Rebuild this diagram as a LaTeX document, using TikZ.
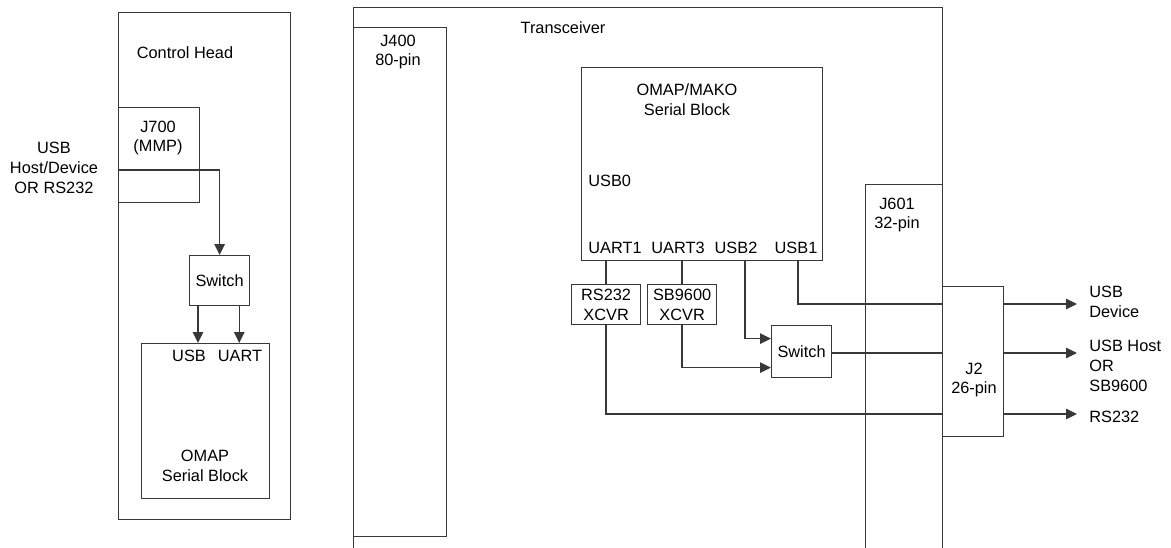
\documentclass[tikz,border=0pt]{standalone}
\usepackage{fontspec}
\setmainfont{Liberation Sans}
\usetikzlibrary{arrows.meta,calc,positioning}
\definecolor{linegray}{rgb}{0.22,0.22,0.22}
\tikzset{
  box/.style={
    draw=linegray,
    line width=.7pt,
    anchor=north west,
    inner sep=0pt,
    align=center
  },
  txt/.style={
    align=center,
    inner sep=0pt
  },
  wire/.style={
    draw=linegray,
    line width=.7pt
  },
  arrow/.style={
    wire,
    -{Triangle[length=2.2mm,width=2.1mm]}
  }
}
\begin{document}
\begin{tikzpicture}[x=0.02cm,y=-0.02cm,font=\fontsize{9.3}{11.3}\selectfont]
\useasboundingbox (0,0) rectangle (1171,548);
\clip (0,0) rectangle (1171,548);
% control head
\node[box,minimum width=3.44cm,minimum height=10.14cm] (ch) at (118,12) {};
\node[txt] (cht) at (185,53) {Control Head};
\node[box,minimum width=1.62cm,minimum height=1.9cm] (j700) at (118,107) {};
\node[txt] (j700t) at (158,138) {J700\\(MMP)};
\node[txt] (ext) at (54,168) {USB\\Host/Device\\OR RS232};
\node[box,minimum width=1.2cm,minimum height=1cm] (sw1) at (189,255) {Switch};
\node[box,minimum width=2.56cm,minimum height=3.1cm] (om) at (141,343) {};
\node[txt] (omusb) at (189,356) {USB};
\node[txt] (omuart) at (240,356) {UART};
\node[txt] (omt) at (205,466) {OMAP\\Serial Block};
\coordinate (in) at (118,170);
\draw[arrow] (in) -| (sw1.north);
\path ([xshift=.18cm]sw1.south west) coordinate (s1a);
\path ([xshift=-.22cm]sw1.south east) coordinate (s1b);
\draw[arrow] (s1a) -- (s1a |- om.north);
\draw[arrow] (s1b) -- (s1b |- om.north);
% transceiver
\node[box,minimum width=11.78cm,minimum height=11.06cm] (trx) at (353,7) {};
\node[txt] (trxt) at (563,28) {Transceiver};
\node[box,minimum width=1.86cm,minimum height=10.18cm] (j400) at (353,27) {};
\node[txt] (j400t) at (398,52) {J400\\80-pin};
\node[box,minimum width=4.82cm,minimum height=3.86cm] (mk) at (581,67) {};
\node[txt] (mkt) at (687,100) {OMAP/MAKO\\Serial Block};
\node[txt,anchor=west] (usb0) at (588,181) {USB0};
\node[txt] (uart1) at (615,248) {UART1};
\node[txt] (uart3) at (678,248) {UART3};
\node[txt] (usb2) at (736,248) {USB2};
\node[txt] (usb1) at (796,248) {USB1};
\node[box,minimum width=1.38cm,minimum height=.8cm] (rsx) at (571,284) {RS232\\XCVR};
\node[box,minimum width=1.38cm,minimum height=.8cm] (sbx) at (647,284) {SB9600\\XCVR};
\node[box,minimum width=1.2cm,minimum height=1.04cm] (sw2) at (771,325) {Switch};
\node[box,minimum width=1.54cm,minimum height=7.52cm] (j601) at (865,184) {};
\node[txt] (j601t) at (897,215) {J601\\32-pin};
\node[box,minimum width=1.22cm,minimum height=3cm,fill=white] (j2) at (942,286) {};
\node[txt] (j2t) at (974,380) {J2\\26-pin};
% outputs
\node[txt,anchor=west,align=left] (o1) at (1089,302) {USB\\Device};
\node[txt,anchor=west,align=left] (o2) at (1089,366) {USB Host\\OR\\SB9600};
\node[txt,anchor=west,align=left] (o3) at (1089,417) {RS232};
\coordinate (r1) at (0,304);
\coordinate (r2) at (0,353);
\coordinate (r3) at (0,414);
\coordinate (outx) at (1077,0);
\coordinate (p2) at (745,260);
\coordinate (p1) at (798,260);
\draw[wire] (mk.south -| rsx.north) -- (rsx.north);
\draw[wire] (mk.south -| sbx.north) -- (sbx.north);
\draw[arrow] (p2) |- ([yshift=.26cm]sw2.west);
\draw[arrow] (sbx.south) |- ([yshift=-.32cm]sw2.west);
\draw[wire] (p1) |- (r1 -| j2.west);
\draw[wire] (sw2.east |- r2) -- (r2 -| j2.west);
\draw[wire] (rsx.south) |- (r3 -| j2.west);
\draw[arrow] (j2.east |- r1) -- (outx |- r1);
\draw[arrow] (j2.east |- r2) -- (outx |- r2);
\draw[arrow] (j2.east |- r3) -- (outx |- r3);
\end{tikzpicture}
\end{document}
